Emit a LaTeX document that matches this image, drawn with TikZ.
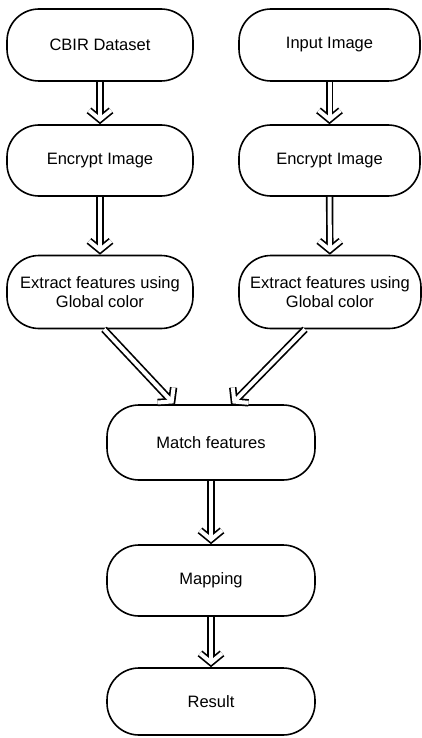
\documentclass[tikz,border=0pt]{standalone}
\usepackage{fontspec}
\setmainfont{Liberation Sans}
\usetikzlibrary{arrows.meta}

\tikzset{
    box/.style={draw, line width=1.6pt, rounded corners=32pt, align=center,
        minimum width=186pt, minimum height=72pt, inner sep=0pt,
        font=\fontsize{16.5}{19.5}\selectfont},
    flow/.style={line width=7.4pt, miter limit=20,
        -{Straight Barb[length=9pt, width=22pt, line join=miter, line cap=butt]},
        postaction={draw, white, line width=4pt, shorten >=2.2pt,
            -{Straight Barb[length=9pt, width=22pt, line join=miter, line cap=butt]}}}
}

\begin{document}
\begin{tikzpicture}[x=1pt, y=-1pt]
            \useasboundingbox (0,0) rectangle (422,738);

            % coordinates
            \coordinate (1) at (100,45);
            \coordinate (2) at (100,160.5);
            \coordinate (3) at (100,292);
            \coordinate (4) at (329.5,45);
            \coordinate (5) at (329.5,160.5);
            \coordinate (6) at (330,292);
            \coordinate (7) at (211,442.5);
            \coordinate (8) at (211,580.5);
            \coordinate (9) at (211,701.5);

            \coordinate (inL) at (175,405);
            \coordinate (inR) at (231,405);

            % boxes
            \node[box] (cbir) at (1) {CBIR Dataset};
            \node[box, minimum height=71pt] (encL) at (2) {Encrypt Image};
            \node[box, minimum height=73pt] (extL) at (3) {Extract features using\\Global color};
            \node[box, minimum width=181pt] (input) at (4) {Input Image};
            \node[box, minimum width=181pt, minimum height=71pt] (encR) at (5) {Encrypt Image};
            \node[box, minimum width=182pt, minimum height=73pt] (extR) at (6) {Extract features using\\Global color};
            \node[box, minimum width=208pt, minimum height=75pt] (match) at (7) {Match features};
            \node[box, minimum width=208pt, minimum height=71pt] (map) at (8) {Mapping};
            \node[box, minimum width=208pt, minimum height=67pt] (res) at (9) {Result};

            % arrows
            \draw[flow] (cbir) -- (encL);
            \draw[flow] (encL) -- (extL);
            \draw[flow] (input) -- (encR);
            \draw[flow] (encR) -- (extR);
            \draw[flow] (extL.south) ++(4,0) -- (inL);
            \draw[flow] (extR.south) ++(-25,0) -- (inR);
            \draw[flow] (match) -- (map);
            \draw[flow] (map) -- (res);
        \end{tikzpicture}
\end{document}
